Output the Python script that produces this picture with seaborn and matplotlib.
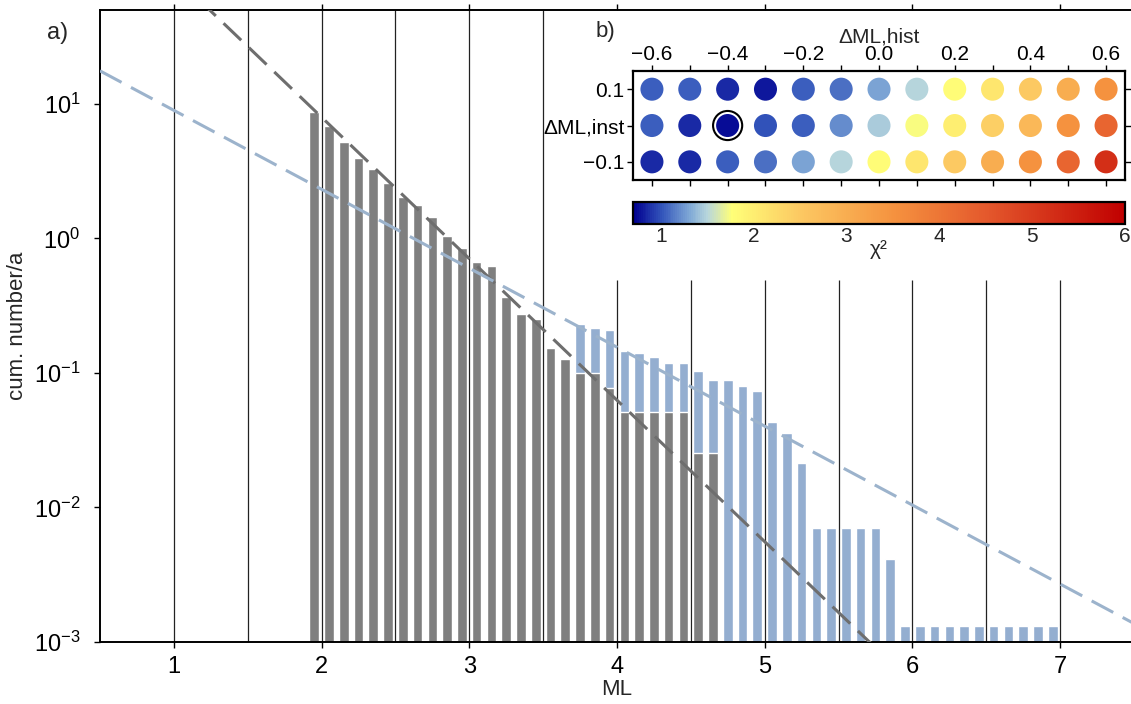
import numpy as np
import pandas as pd
import matplotlib
matplotlib.use('Agg')
import matplotlib.pyplot as plt
import seaborn as sns
from matplotlib.colors import LinearSegmentedColormap, Normalize
from matplotlib.ticker import MultipleLocator, FixedLocator

# cumulative number per year, instrumental catalogue (grey bars)
ml_inst = [1.95, 2.05, 2.15, 2.25, 2.35, 2.45, 2.55, 2.65, 2.75, 2.85,
           2.95, 3.05, 3.15, 3.25, 3.35, 3.45, 3.55, 3.65, 3.75, 3.85,
           3.95, 4.05, 4.15, 4.25, 4.35, 4.45, 4.55, 4.65]
n_inst = [8.7, 6.9, 5.2, 3.98, 3.26, 2.58, 2.05, 1.76, 1.44, 1.04,
          0.85, 0.67, 0.62, 0.37, 0.275, 0.25, 0.153, 0.128, 0.10, 0.10,
          0.078, 0.051, 0.051, 0.051, 0.051, 0.051, 0.0254, 0.0254]

# cumulative number per year, historical catalogue (blue bars)
ml_hist = [3.75, 3.85, 3.95, 4.05, 4.15, 4.25, 4.35, 4.45, 4.55, 4.65,
           4.75, 4.85, 4.95, 5.05, 5.15, 5.25, 5.35, 5.45, 5.55, 5.65,
           5.75, 5.85, 5.95, 6.05, 6.15, 6.25, 6.35, 6.45, 6.55, 6.65,
           6.75, 6.85, 6.95]
n_hist = [0.23, 0.217, 0.21, 0.146, 0.14, 0.132, 0.118, 0.118, 0.103, 0.088,
          0.088, 0.080, 0.073, 0.0435, 0.036, 0.0216, 0.0070, 0.0070, 0.0070, 0.0070,
          0.0070, 0.00415, 0.00132, 0.00132, 0.00132, 0.00132, 0.00132, 0.00132, 0.00132, 0.00132,
          0.00132, 0.00132, 0.00132]

# Gutenberg-Richter fits: log10 N = a - b*ML
a_inst, b_inst = 3.006, 1.052
a_hist, b_hist = 1.54, 0.587

# chi2 grid search (inset b)
dml_hist = [-0.6, -0.5, -0.4, -0.3, -0.2, -0.1, 0.0, 0.1, 0.2, 0.3, 0.4, 0.5, 0.6]
dml_inst = [0.1, 0.0, -0.1]
chi2_p01 = [1.05, 1.05, 0.85, 0.80, 1.05, 1.10, 1.30, 1.50, 1.80, 2.10, 2.50, 3.00, 3.50]
chi2_000 = [1.05, 0.85, 0.75, 1.00, 1.05, 1.20, 1.45, 1.75, 2.00, 2.40, 2.80, 3.50, 4.30]
chi2_m01 = [0.85, 0.85, 1.05, 1.10, 1.30, 1.50, 1.80, 2.10, 2.50, 3.00, 3.50, 4.30, 5.20]
best_hist, best_inst = -0.4, 0.0

sns.set_style('ticks')
plt.rcParams['font.family'] = ['Liberation Sans', 'DejaVu Sans']
plt.rcParams['axes.linewidth'] = 1.4

fig = plt.figure(figsize=(11.31, 7.04), dpi=100)
ax = fig.add_axes([0.0884, 0.0881, 0.9142, 0.8977])
ax.set_yscale('log')

# thin vertical reference lines
ax.vlines([1, 1.5, 2, 2.5, 3, 3.5], 1e-3, 50, color='#222222', lw=0.9, zorder=1)
ax.vlines([4, 4.5, 5, 5.5, 6, 6.5, 7], 1e-3, 0.49, color='#222222', lw=0.9, zorder=1)

# bars: historical below, instrumental on top
sns.barplot(x=ml_hist, y=n_hist, native_scale=True, width=0.65, color='#94aed0',
            saturation=1, errorbar=None, ax=ax, zorder=2)
sns.barplot(x=ml_inst, y=n_inst, native_scale=True, width=0.65, color='#7f7f7f',
            saturation=1, errorbar=None, ax=ax, zorder=2)

# GR fit lines
ml_line = np.array([0.5, 7.5])
ax.plot(ml_line, 10 ** (a_inst - b_inst * ml_line), color='#6e6e6e', lw=2.2,
        linestyle=(0, (8, 3.5)), zorder=3)
ax.plot(ml_line, 10 ** (a_hist - b_hist * ml_line), color='#9cb3cc', lw=2.2,
        linestyle=(0, (8, 3.5)), zorder=3)

ax.set_xlim(0.5, 7.5)
ax.set_ylim(1e-3, 50)
ax.xaxis.set_major_locator(FixedLocator([1, 2, 3, 4, 5, 6, 7]))
ax.set_xticklabels(['1', '2', '3', '4', '5', '6', '7'])
ax.minorticks_off()
ax.tick_params(axis='both', direction='out', length=4, width=1, labelsize=17, colors='black')
ax.tick_params(axis='x', top=True, pad=6)
ax.tick_params(axis='y', pad=10)
ax.set_xlabel('ML', fontsize=16, labelpad=1)
ax.set_ylabel('cum. number/a', fontsize=16, labelpad=4)
for s in ax.spines.values():
    s.set_color('black')
    s.set_visible(True)
fig.text(58 / 1131, 1 - 33 / 704, 'a)', fontsize=17, ha='center', va='center')

# inset b) chi2 grid
rows = []
for inst, vals in zip(dml_inst, [chi2_p01, chi2_000, chi2_m01]):
    for h, c in zip(dml_hist, vals):
        rows.append({'hist': h, 'inst': inst, 'chi2': c})
grid = pd.DataFrame(rows)

cmap = LinearSegmentedColormap.from_list('chi2', [
    (0.0, '#000090'), (0.057, '#3355bb'), (0.113, '#7fa8d6'), (0.15, '#b8d6dc'),
    (0.2, '#ffff78'), (0.34, '#fcc862'), (0.53, '#f5923f'), (0.72, '#e4582c'),
    (1.0, '#c00000')])
norm = Normalize(vmin=0.7, vmax=6)

axin = fig.add_axes([0.5597, 0.7443, 0.435, 0.1548])
sns.scatterplot(data=grid, x='hist', y='inst', hue='chi2', palette=cmap, hue_norm=norm,
                s=275, linewidth=0, legend=False, ax=axin, zorder=3)
axin.scatter([best_hist], [best_inst], s=440, facecolor='none', edgecolor='black',
             linewidth=1.5, zorder=4)
axin.set_xlim(-0.65, 0.65)
axin.set_ylim(-0.15, 0.15)
axin.xaxis.set_major_locator(MultipleLocator(0.2))
axin.xaxis.set_minor_locator(MultipleLocator(0.1))
axin.xaxis.tick_top()
axin.xaxis.set_label_position('top')
axin.set_yticks([-0.1, 0.0, 0.1])
axin.set_yticklabels(['\u22120.1', '\u0394ML,inst', '0.1'])
axin.tick_params(axis='both', which='both', direction='out', length=4, width=1,
                 labelsize=15, top=True, bottom=True, left=True, right=True, colors='black')
axin.tick_params(axis='x', which='major', pad=1)
axin.tick_params(axis='y', pad=2)
axin.set_xlabel('\u0394ML,hist', fontsize=15, labelpad=2)
axin.set_ylabel('')
axin.set_facecolor('white')
for s in axin.spines.values():
    s.set_color('black')
    s.set_linewidth(1.6)

cax = fig.add_axes([0.5597, 0.6818, 0.435, 0.0317])
cb = fig.colorbar(plt.cm.ScalarMappable(norm=norm, cmap=cmap), cax=cax,
                  orientation='horizontal', ticks=[1, 2, 3, 4, 5, 6])
cb.outline.set_linewidth(1.6)
cb.outline.set_edgecolor('black')
cax.tick_params(labelsize=15, length=0, pad=2)
cb.set_label('\u03c7\u00b2', fontsize=15, labelpad=-4)

fig.text(605 / 1131, 1 - 32 / 704, 'b)', fontsize=16, ha='center', va='center')

plt.savefig('out.png', dpi=100)
